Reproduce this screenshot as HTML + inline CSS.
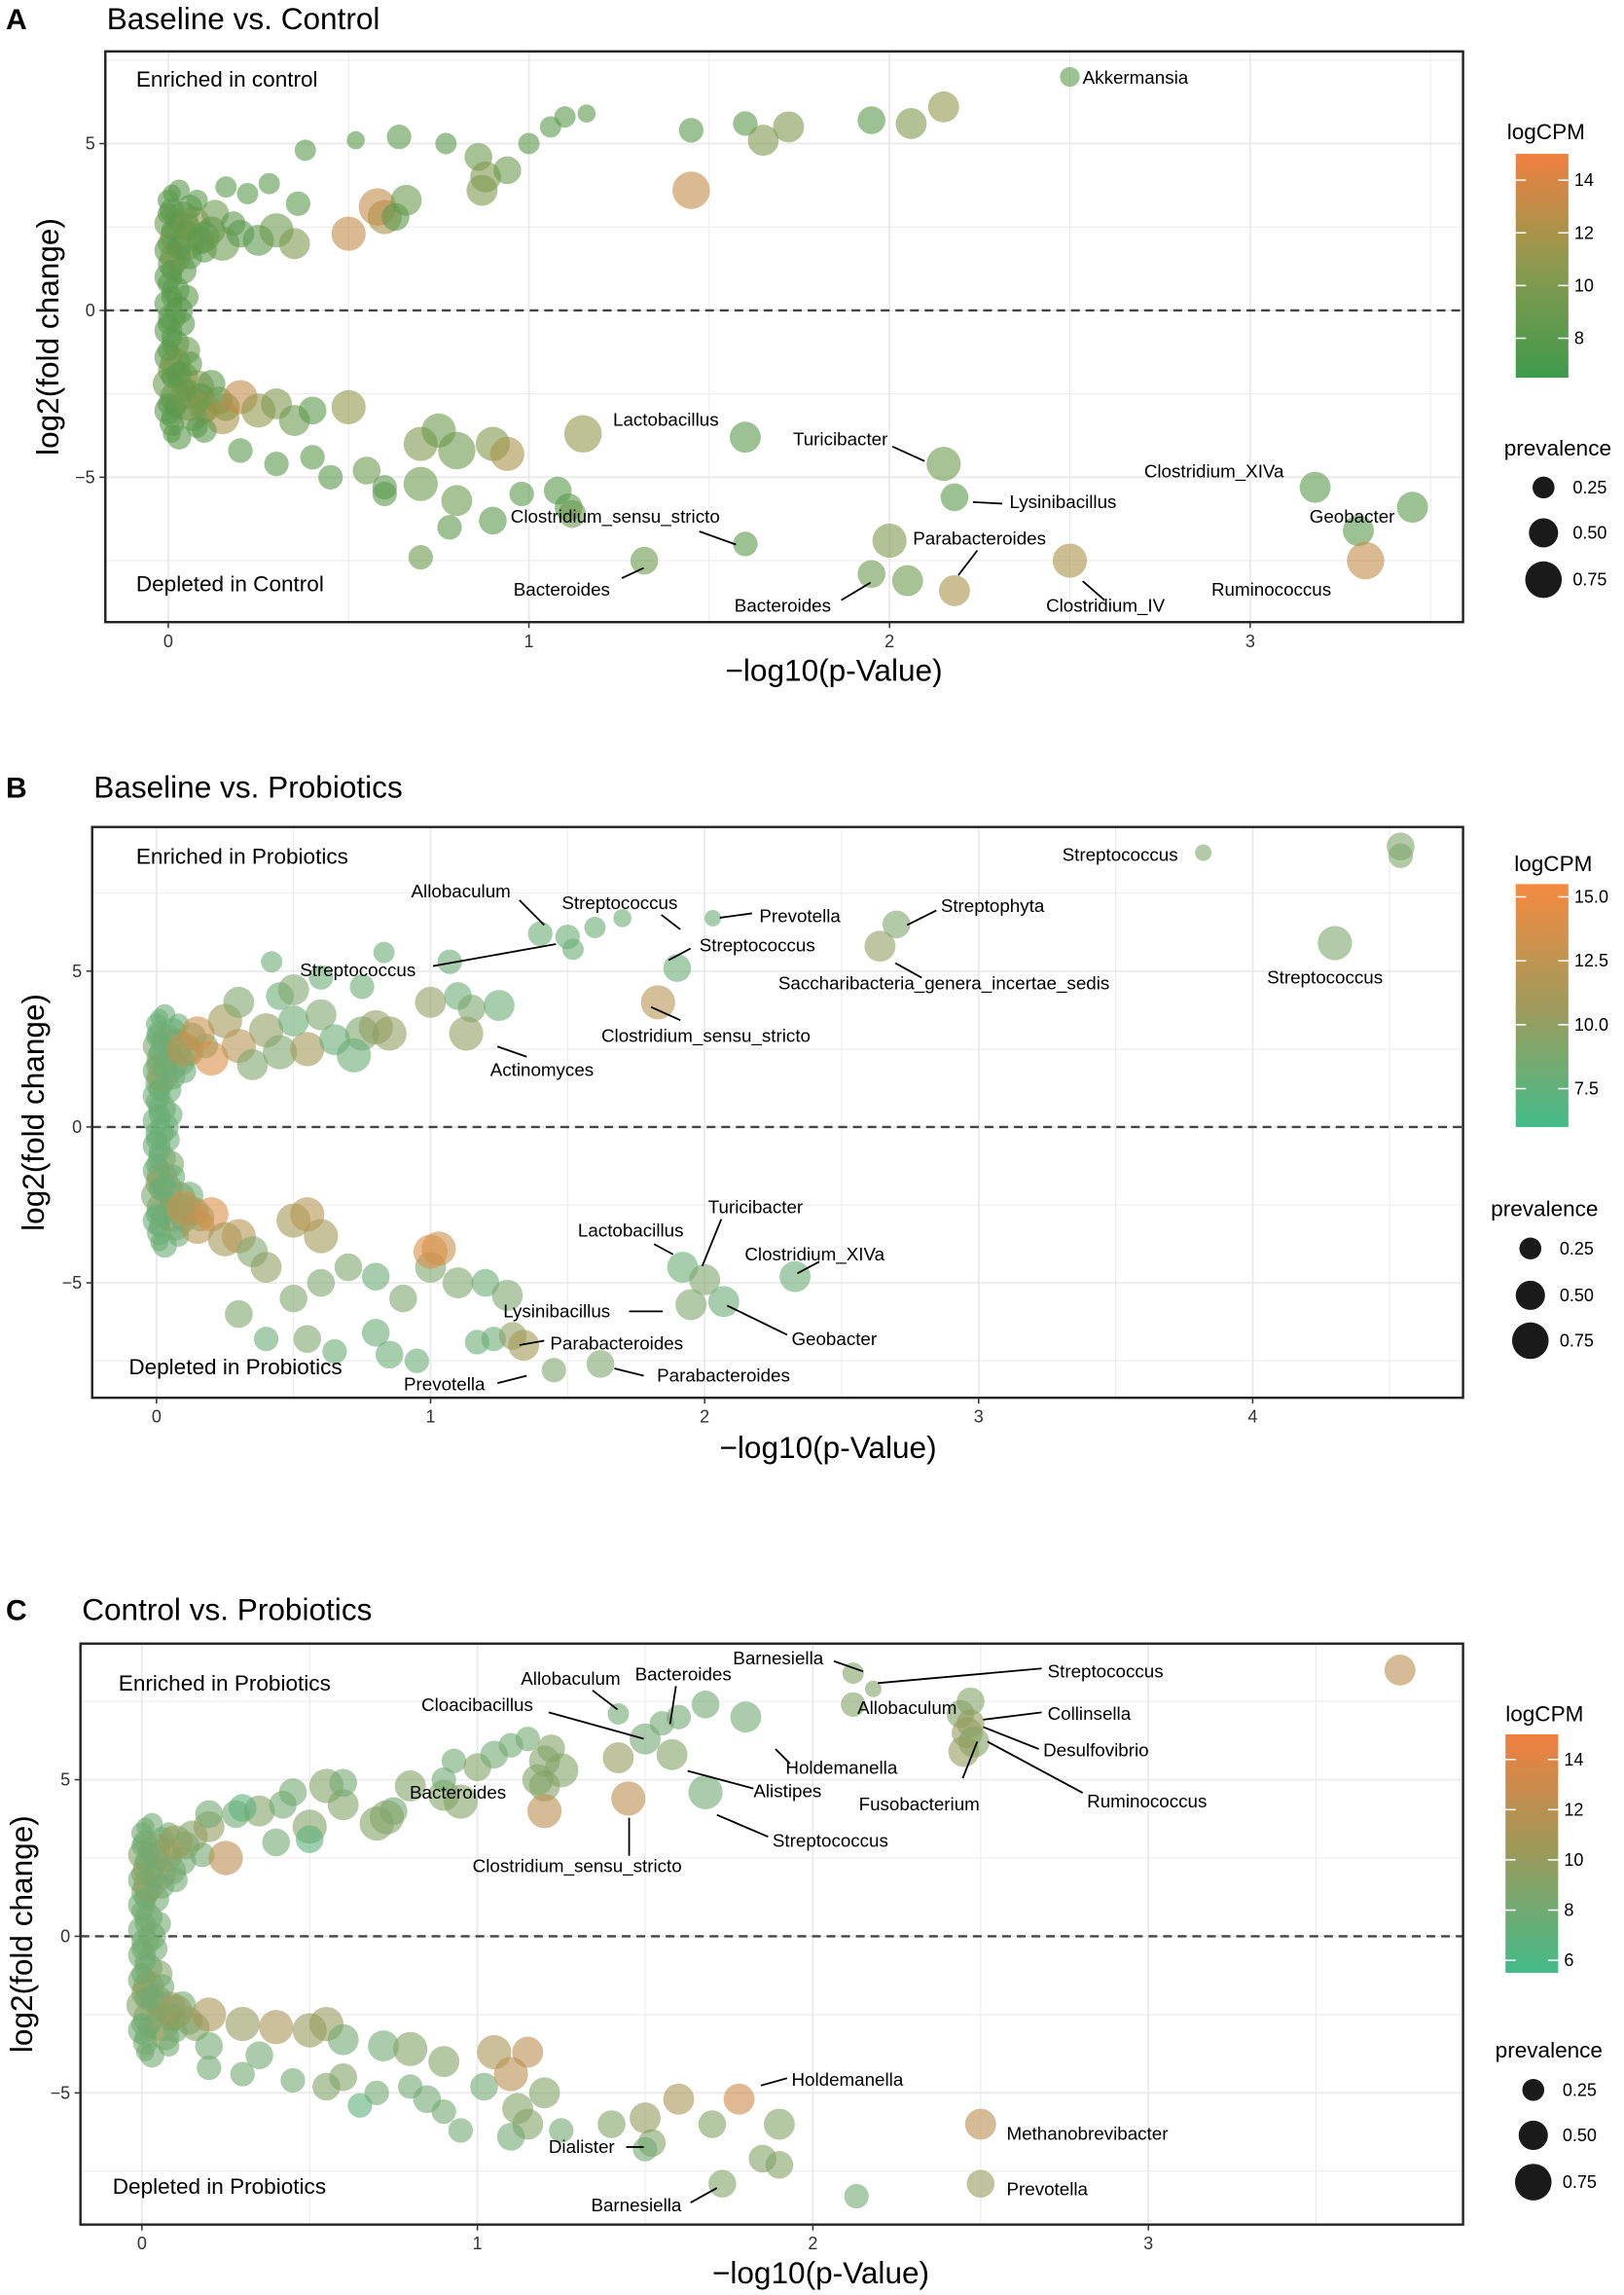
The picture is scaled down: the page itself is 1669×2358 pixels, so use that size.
<!DOCTYPE html>
<html><head><meta charset="utf-8">
<style>
html,body{margin:0;padding:0;background:#fff;}
svg{display:block;font-family:"Liberation Sans",sans-serif;}
</style></head>
<body>
<svg id="fig" width="1669" height="2358" viewBox="0 0 1110 1568" xmlns="http://www.w3.org/2000/svg"></svg>
<script>
// near-zero cluster shared pattern: [x, y, logCPM, prevalence]
const clusterPoints=[[0,3.3,8,.3],[0.01,3,8,.4],[0,2.6,9,.5],[0.02,2.2,9,.6],[0,1.8,8,.5],[0.01,1.4,8,.5],[0,1.0,8,.5],[0.02,0.6,8,.5],[0,0.2,8,.5],[0.01,-0.2,8,.5],[0,-0.6,8,.5],[0.02,-1.0,8,.5],[0,-1.4,8,.5],[0.01,-1.8,9,.5],[0,-2.2,9,.6],[0.02,-2.6,9,.6],[0,-3.0,8,.5],[0.01,-3.4,8,.4],[0.04,2.8,9,.6],[0.05,2.0,10,.7],[0.04,1.2,8,.5],[0.05,0.4,8,.4],[0.04,-0.4,8,.4],[0.05,-1.2,9,.5],[0.04,-2.0,10,.6],[0.06,-2.8,11,.7],[0.03,-3.8,8,.4],[0.03,3.6,8,.3],[0.07,2.6,11,.7],[0.08,-2.3,11,.7],[0.02,1.6,10,.6],[0.02,-1.6,10,.6],[0.03,0,8,.5],[0.06,3.1,8,.4],[0.07,-3.2,9,.5],
[0,2.9,8,.3],[0.01,2.4,8,.3],[0,2.0,9,.3],[0.01,1.2,8,.3],[0,0.8,8,.3],[0.01,0.4,8,.3],[0,-0.4,8,.3],[0.01,-0.8,8,.3],[0,-1.2,8,.3],[0.01,-2.0,8,.3],[0,-2.8,8,.3],[0.01,-3.2,8,.3],[0.02,2.7,8,.3],[0.03,1.9,8,.4],[0.03,-1.9,8,.4],[0.02,-2.9,8,.3],[0.09,2.1,9,.5],[0.12,2.4,8,.5],[0.1,1.8,8,.4],[0.13,2.9,9,.5],[0.18,2.6,8,.4],[0.09,-2.6,9,.5],[0.12,-2.2,8,.5],[0.14,-2.7,9,.5],[0.1,-3.0,8,.4],[0.16,-2.9,9,.5],[0.06,1.6,8,.4],[0.06,-1.6,8,.4],[0.05,2.4,8,.3],[0.05,-2.4,8,.3],[0.08,3.3,8,.3],[0.08,-3.5,8,.3],[0.01,3.5,8,.2],[0.01,-3.7,8,.2]];
const aPoints=[[0.05,2.5,9,.5],[0.1,2.2,8,.6],[0.15,2.0,9,.7],[0.2,2.3,8,.5],[0.25,2.1,8,.6],[0.3,2.4,9,.7],[0.35,2.0,10,.6],[0.36,3.2,8,.4],[0.22,3.5,8,.3],[0.16,3.7,8,.3],[0.28,3.8,8,.3],[0.5,2.3,13,.7],[0.6,2.8,12,.7],[0.58,3.1,13,.8],[0.66,3.3,9,.6],[0.63,2.8,8,.5],[0.38,4.8,8,.3],[0.52,5.1,8,.2],[0.64,5.2,8,.4],[0.77,5.0,8,.3],[0.86,4.6,9,.5],[0.88,4.0,10,.6],[0.94,4.2,9,.5],[0.87,3.6,10,.6],[1.0,5.0,8,.3],[1.06,5.5,8,.3],[1.1,5.8,8,.3],[1.16,5.9,8,.2],[1.45,3.6,13,.8],[1.45,5.4,8,.4],[1.6,5.6,8,.4],[1.65,5.1,10,.6],[1.72,5.5,10,.6],[1.95,5.7,8,.5],[2.06,5.6,10,.6],[2.15,6.1,11,.6],[2.5,7.0,8,.25],
[0.05,-2.5,9,.6],[0.1,-2.9,10,.6],[0.15,-3.2,12,.7],[0.2,-2.6,13,.7],[0.25,-3.0,11,.7],[0.3,-2.8,10,.6],[0.35,-3.3,9,.6],[0.4,-3.0,8,.5],[0.5,-2.9,11,.7],[0.1,-3.6,8,.4],[0.2,-4.2,8,.4],[0.3,-4.6,8,.4],[0.4,-4.4,8,.4],[0.45,-5.0,8,.4],[0.55,-4.8,9,.5],[0.6,-5.3,8,.4],[0.7,-4.0,10,.7],[0.75,-3.6,9,.7],[0.8,-4.2,9,.8],[0.9,-4.0,10,.7],[0.94,-4.3,12,.7],[0.7,-5.2,9,.7],[0.8,-5.7,9,.6],[0.9,-6.3,8,.5],[0.98,-5.5,8,.4],[1.08,-5.4,8,.5],[1.11,-5.9,8,.5],[1.12,-6.1,9,.5],[1.15,-3.7,11,.8],[0.78,-6.5,8,.4],[0.7,-7.4,9,.4],[0.6,-5.5,8,.4],[1.6,-3.8,8,.6],[2.15,-4.6,9,.7],[2.18,-5.6,8,.5],[1.6,-7.0,8,.4],[1.32,-7.5,9,.5],[2.0,-6.9,10,.7],[1.95,-7.9,9,.5],[2.05,-8.1,9,.6],[2.18,-8.4,12,.6],[2.5,-7.5,12,.7],[3.18,-5.3,8,.6],[3.45,-5.9,8,.6],[3.3,-6.6,8,.6],[3.32,-7.5,13,.8]];
const bPoints=[[0.1,2.5,12,.7],[0.15,3.0,13,.7],[0.2,2.2,14,.7],[0.25,3.4,11,.7],[0.3,2.6,12,.7],[0.35,2.0,9,.6],[0.4,3.1,10,.7],[0.45,2.4,9,.7],[0.5,3.4,8,.6],[0.55,2.5,11,.7],[0.3,4.0,9,.6],[0.45,4.2,8,.5],[0.5,4.4,9,.6],[0.6,3.6,9,.6],[0.65,2.8,8,.6],[0.75,3.0,9,.7],[0.8,3.2,10,.7],[0.85,3.0,10,.7],[0.72,2.3,8,.7],[0.42,5.3,8,.3],[0.6,4.8,8,.4],[0.75,4.5,8,.4],[0.83,5.6,8,.3],[1.07,5.3,8,.4],[1.0,4.0,10,.6],[1.1,4.2,8,.5],[1.15,3.8,9,.5],[1.25,3.9,8,.6],[1.13,3.0,10,.7],[1.4,6.2,8,.4],[1.5,6.1,8,.4],[1.52,5.7,8,.3],[1.6,6.4,8,.3],[1.7,6.7,8,.2],[1.83,4.0,12,.7],[1.9,5.1,8,.5],[2.03,6.7,8,.15],[2.64,5.8,10,.6],[2.7,6.5,9,.5],[3.82,8.8,9,.15],[4.3,5.9,9,.7],[4.54,9.0,9,.5],[4.54,8.7,9,.4],
[0.1,-2.6,13,.7],[0.15,-3.2,12,.7],[0.2,-2.8,14,.7],[0.25,-3.6,11,.7],[0.3,-3.5,12,.7],[0.35,-4.0,9,.6],[0.5,-3.0,11,.7],[0.6,-3.5,11,.7],[0.55,-2.8,12,.7],[0.4,-4.5,10,.6],[0.5,-5.5,9,.5],[0.6,-5.0,9,.5],[0.7,-4.5,9,.5],[0.8,-4.8,8,.5],[0.9,-5.5,9,.5],[0.3,-6.0,9,.5],[0.4,-6.8,8,.4],[0.55,-6.8,9,.5],[0.65,-7.2,8,.4],[0.8,-6.6,8,.5],[0.85,-7.3,8,.5],[0.95,-7.5,8,.4],[1.0,-4.5,9,.6],[1.03,-3.9,13,.7],[1.0,-4.0,14,.7],[1.1,-5.0,9,.6],[1.2,-5.0,8,.5],[1.28,-5.4,9,.6],[1.17,-6.9,8,.4],[1.23,-6.8,8,.4],[1.3,-6.7,10,.5],[1.34,-7.0,11,.6],[1.45,-7.8,9,.4],[1.62,-7.6,9,.5],[1.92,-4.5,8,.6],[1.95,-5.7,9,.6],[2.0,-4.9,9,.6],[2.07,-5.6,8,.6],[2.33,-4.8,8,.6]];
const cPoints=[[0.1,3,10,.7],[0.15,3.2,9,.6],[0.2,3.5,10,.6],[0.25,2.5,12,.7],[0.28,3.9,8,.5],[0.35,4,9,.6],[0.4,3.0,8,.5],[0.42,4.2,8,.5],[0.45,4.6,8,.5],[0.5,3.5,9,.7],[0.55,4.8,9,.7],[0.6,4.2,9,.6],[0.7,3.6,9,.7],[0.75,4.0,8,.5],[0.8,4.8,9,.6],[0.6,4.9,8,.5],[0.9,4.5,9,.6],[0.95,4.3,9,.7],[0.73,3.8,9,.7],[0.9,5.0,8,.4],[0.93,5.6,8,.4],[1.0,5.4,9,.5],[1.05,5.8,8,.5],[1.1,6.1,8,.4],[1.15,6.3,8,.4],[1.18,5.0,9,.6],[1.2,4.8,9,.6],[1.2,5.6,9,.6],[1.25,5.3,9,.7],[1.22,6.0,9,.5],[1.2,4.0,12,.7],[1.45,4.4,12,.7],[1.42,5.7,10,.6],[1.5,6.3,8,.6],[1.55,6.8,8,.4],[1.42,7.1,8,.3],[1.6,7.0,8,.4],[1.68,7.4,8,.5],[1.58,5.8,9,.6],[1.68,4.6,8,.7],[1.8,7.0,8,.6],[2.12,8.4,9,.3],[2.18,7.9,9,.15],[2.12,7.4,9,.4],[2.44,7.1,9,.5],[2.47,7.5,9,.5],[2.47,6.8,10,.5],[2.46,6.5,10,.6],[2.48,6.2,9,.6],[2.45,5.9,10,.6],[3.75,8.5,12,.6],[0.2,3.9,8,.5],[0.3,4.1,7,.5],[0.5,3.1,7,.5],
[0.1,-2.4,10,.7],[0.2,-2.5,11,.7],[0.3,-2.8,10,.7],[0.4,-2.9,11,.7],[0.5,-3.0,10,.7],[0.55,-2.8,10,.7],[0.6,-3.3,8,.6],[0.2,-3.5,8,.5],[0.35,-3.8,8,.5],[0.2,-4.2,8,.4],[0.3,-4.4,8,.4],[0.45,-4.6,8,.4],[0.55,-4.8,9,.5],[0.6,-4.5,9,.5],[0.7,-5.0,8,.4],[0.8,-4.8,8,.4],[0.65,-5.4,7,.4],[0.72,-3.5,8,.6],[0.8,-3.6,9,.7],[0.9,-4.0,9,.6],[0.85,-5.2,8,.5],[0.9,-5.6,8,.4],[0.95,-6.2,8,.4],[1.02,-4.8,8,.5],[1.05,-3.7,11,.7],[1.1,-4.4,12,.7],[1.15,-3.7,12,.6],[1.12,-5.5,9,.6],[1.15,-6.0,9,.6],[1.1,-6.4,8,.5],[1.25,-6.2,8,.4],[1.2,-5.0,9,.6],[1.4,-6.0,9,.5],[1.5,-5.8,10,.6],[1.6,-5.2,11,.6],[1.52,-6.6,9,.5],[1.7,-6.0,9,.5],[1.78,-5.2,13,.6],[1.9,-6.0,9,.6],[1.85,-7.1,9,.5],[1.9,-7.3,9,.5],[1.73,-7.9,9,.5],[2.13,-8.3,8,.4],[2.5,-6.0,12,.6],[2.5,-7.9,10,.5],[1.5,-6.8,8,.4]];
const aXTicks=[0,1,2,3], bXTicks=[0,1,2,3,4], cXTicks=[0,1,2,3];
const yTicks=[-5,0,5];
const aCbTicks=[8,10,12,14], bCbTicks=[7.5,10.0,12.5,15.0], cCbTicks=[6,8,10,12,14];
const prevLevels=[0.25,0.50,0.75];

const NS="http://www.w3.org/2000/svg";
const fig=document.getElementById('fig');
function el(tag,attrs,parent,text){const e=document.createElementNS(NS,tag);for(const k in attrs)e.setAttribute(k,attrs[k]);if(text!==undefined)e.textContent=text;(parent||fig).appendChild(e);return e;}
function hex(c){return [parseInt(c.slice(1,3),16),parseInt(c.slice(3,5),16),parseInt(c.slice(5,7),16)];}
function mix(a,b,t){const A=hex(a),B=hex(b);return 'rgb('+A.map((v,i)=>Math.round(v+(B[i]-v)*t)).join(',')+')';}
function colorFn(lo,mid,hi,cmin,cmax){return v=>{let t=Math.max(0,Math.min(1,(v-cmin)/(cmax-cmin)));return t<0.5?mix(lo,mid,t*2):mix(mid,hi,(t-0.5)*2);};}
function rad(p){return 4+11*p;}

const panels=[
 {id:'a',letter:'A',title:'Baseline vs. Control',tx:73,ly:20,box:[72,35,1000,425],x0:115,xu:246.5,y0:212,yu:22.8,xt:aXTicks,pts:aPoints,
  col:colorFn('#3e9a4c','#8c9a4e','#f08040',6.5,15),cbTicks:aCbTicks,cb:[1036,105,1072,258],cbMin:6.5,cbMax:15,cbTitle:[1030,95],prevT:[1028,311],prevC:[1055,[333,364,396]],ylabX:40,xlab:[570,465],
  enr:['Enriched in control',93,59],dep:['Depleted in Control',93,404],
  labels:[['Akkermansia',740,57],['Lactobacillus',419,291],['Turicibacter',542,304],['Clostridium_XIVa',782,326],['Lysinibacillus',690,347],['Geobacter',895,357],['Clostridium_sensu_stricto',349,357],['Parabacteroides',624,372],['Bacteroides',351,407],['Bacteroides',502,418],['Clostridium_IV',715,418],['Ruminococcus',828,407]],
  lines:[[610,305,632,315],[665,343,685,344],[478,363,503,372],[668,376,655,393],[425,395,440,388],[575,410,595,398],[755,410,740,397]]},
 {id:'b',letter:'B',title:'Baseline vs. Probiotics',tx:64,ly:545,box:[63,565,1000,955],x0:107,xu:187.3,y0:770,yu:21.3,xt:bXTicks,pts:bPoints,
  col:colorFn('#43bc8a','#a09a5a','#f58a40',6,15.5),cbTicks:bCbTicks,cb:[1036,604,1072,770],cbMin:6,cbMax:15.5,cbTitle:[1035,595],prevT:[1019,831],prevC:[1046,[853,885,916]],ylabX:30,xlab:[566,996],
  enr:['Enriched in Probiotics',93,590],dep:['Depleted in Probiotics',88,939],
  labels:[['Streptococcus',726,588],['Allobaculum',281,613],['Streptococcus',384,621],['Prevotella',519,630],['Streptophyta',643,623],['Streptococcus',205,667],['Streptococcus',478,650],['Saccharibacteria_genera_incertae_sedis',532,676],['Streptococcus',866,672],['Clostridium_sensu_stricto',411,712],['Actinomyces',335,735],['Turicibacter',484,829],['Lactobacillus',395,845],['Clostridium_XIVa',509,861],['Lysinibacillus',344,900],['Geobacter',541,919],['Parabacteroides',376,922],['Parabacteroides',449,944],['Prevotella',276,950]],
  lines:[[355,615,372,632],[452,625,465,635],[492,627,514,624],[620,632,640,622],[296,660,380,645],[457,656,472,648],[612,658,630,668],[445,688,465,697],[340,715,360,722],[493,833,480,865],[447,850,460,857],[560,862,545,870],[430,896,453,896],[538,912,497,892],[355,919,372,916],[420,935,440,940],[340,945,360,940]]},
 {id:'c',letter:'C',title:'Control vs. Probiotics',tx:56,ly:1107,box:[55,1123,1000,1520],x0:97,xu:229.3,y0:1323,yu:21.4,xt:cXTicks,pts:cPoints,
  col:colorFn('#43bc8a','#9a9a5a','#f08040',5.5,15),cbTicks:cCbTicks,cb:[1029,1185,1065,1348],cbMin:5.5,cbMax:15,cbTitle:[1029,1176],prevT:[1022,1406],prevC:[1048,[1428,1459,1491]],ylabX:22,xlab:[561,1560],
  enr:['Enriched in Probiotics',81,1155],dep:['Depleted in Probiotics',77,1499],
  labels:[['Barnesiella',501,1137],['Streptococcus',716,1146],['Allobaculum',356,1151],['Bacteroides',434,1148],['Allobaculum',586,1171],['Cloacibacillus',288,1169],['Collinsella',716,1175],['Desulfovibrio',713,1200],['Holdemanella',537,1212],['Alistipes',515,1228],['Bacteroides',280,1229],['Ruminococcus',743,1235],['Fusobacterium',587,1237],['Streptococcus',528,1262],['Clostridium_sensu_stricto',323,1279],['Holdemanella',541,1425],['Methanobrevibacter',688,1462],['Dialister',375,1471],['Prevotella',688,1500],['Barnesiella',404,1511]],
  lines:[[570,1135,590,1142],[600,1150,712,1140],[405,1155,422,1168],[462,1152,458,1178],[375,1170,440,1188],[672,1175,712,1170],[672,1180,710,1195],[530,1195,540,1205],[470,1210,515,1222],[675,1190,740,1225],[658,1215,668,1190],[490,1240,525,1255],[430,1242,430,1268],[520,1425,538,1420],[428,1467,440,1467],[472,1505,490,1495]]}
];

panels.forEach(P=>{
  const g=el('g',{});
  
  
  const [L,T,R,B]=P.box;
  const X=v=>P.x0+v*P.xu, Y=v=>P.y0-v*P.yu;
  const t1=el('text',{x:4,y:P.ly,'font-size':20,'font-weight':'bold'},g,P.letter);
  
  const t2=el('text',{x:P.tx,y:P.ly,'font-size':21},g,P.title);
  
  el('rect',{x:L,y:T,width:R-L,height:B-T,fill:'#fff'},g);
  const grid=el('g',{},g);
  
  for(let v=-0.5;X(v)<R;v+=0.5){const x=X(v);if(x>L&&x<R)el('line',{x1:x,y1:T,x2:x,y2:B,stroke:'#ebebeb','stroke-width':Number.isInteger(v)?1.3:0.7},grid);}
  for(let v=-10;v<=10;v+=2.5){const y=Y(v);if(y>T&&y<B)el('line',{x1:L,y1:y,x2:R,y2:y,stroke:'#ebebeb','stroke-width':(v%5===0)?1.3:0.7},grid);}
  const zl=el('line',{x1:L,y1:Y(0),x2:R,y2:Y(0),stroke:'#444','stroke-width':1.6,'stroke-dasharray':'6,4'},g);
  
  const pg=el('g',{},g);
  
  clusterPoints.concat(P.pts).forEach(d=>{
    const c=el('circle',{cx:X(d[0]),cy:Y(d[1]),r:rad(d[3]),fill:P.col(d[2]),'fill-opacity':0.6},pg);
    
    
  });
  const fr=el('rect',{x:L,y:T,width:R-L,height:B-T,fill:'none',stroke:'#222','stroke-width':1.6},g);
  
  P.xt.forEach(v=>{el('line',{x1:X(v),y1:B,x2:X(v),y2:B+4,stroke:'#333'},g);
    const t=el('text',{x:X(v),y:B+17,'font-size':12,'text-anchor':'middle',fill:'#333'},g,String(v));
    });
  yTicks.forEach(v=>{el('line',{x1:L-4,y1:Y(v),x2:L,y2:Y(v),stroke:'#333'},g);
    const t=el('text',{x:L-7,y:Y(v)+4,'font-size':12,'text-anchor':'end',fill:'#333'},g,v<0?'\u2212'+(-v):String(v));
    });
  const xl=el('text',{x:P.xlab[0],y:P.xlab[1],'font-size':21,'text-anchor':'middle'},g,'\u2212log10(p-Value)');
  
  const ym=(T+B)/2;
  const yl=el('text',{x:P.ylabX,y:ym,'font-size':21,'text-anchor':'middle',transform:'rotate(-90 '+P.ylabX+' '+ym+')'},g,'log2(fold change)');
  
  const en=el('text',{x:P.enr[1],y:P.enr[2],'font-size':15},g,P.enr[0]);
  
  const de=el('text',{x:P.dep[1],y:P.dep[2],'font-size':15},g,P.dep[0]);
  
  P.lines.forEach(l=>{const ln=el('line',{x1:l[0],y1:l[1],x2:l[2],y2:l[3],stroke:'#000','stroke-width':1.2},g);
    });
  P.labels.forEach(l=>{const t=el('text',{x:l[1],y:l[2],'font-size':12.5},g,l[0]);
    });
  const lg=el('g',{},g);
  
  el('text',{x:P.cbTitle[0],y:P.cbTitle[1],'font-size':15},lg,'logCPM');
  const [cx1,cy1,cx2,cy2]=P.cb;
  const gid='grad'+P.id;
  const defs=el('defs',{},lg);
  const lgr=el('linearGradient',{id:gid,x1:0,y1:1,x2:0,y2:0},defs);
  for(let i=0;i<=10;i++){el('stop',{offset:i/10,'stop-color':P.col(P.cbMin+(P.cbMax-P.cbMin)*i/10)},lgr);}
  const cbr=el('rect',{x:cx1,y:cy1,width:cx2-cx1,height:cy2-cy1,fill:'url(#'+gid+')'},lg);
  
  const CY=v=>cy2-(v-P.cbMin)/(P.cbMax-P.cbMin)*(cy2-cy1);
  P.cbTicks.forEach(v=>{el('line',{x1:cx1,y1:CY(v),x2:cx1+7,y2:CY(v),stroke:'#fff'},lg);el('line',{x1:cx2-7,y1:CY(v),x2:cx2,y2:CY(v),stroke:'#fff'},lg);
    el('text',{x:cx2+4,y:CY(v)+4,'font-size':12},lg,P.id!=='b'?String(v):v.toFixed(1));});
  el('text',{x:P.prevT[0],y:P.prevT[1],'font-size':15},lg,'prevalence');
  prevLevels.forEach((p,i)=>{const cy=P.prevC[1][i];
    el('circle',{cx:P.prevC[0],cy:cy,r:5+10*p,fill:'#1a1a1a'},lg);
    el('text',{x:P.prevC[0]+20,y:cy+4,'font-size':12},lg,p.toFixed(2));});
});
</script>
</body></html>
